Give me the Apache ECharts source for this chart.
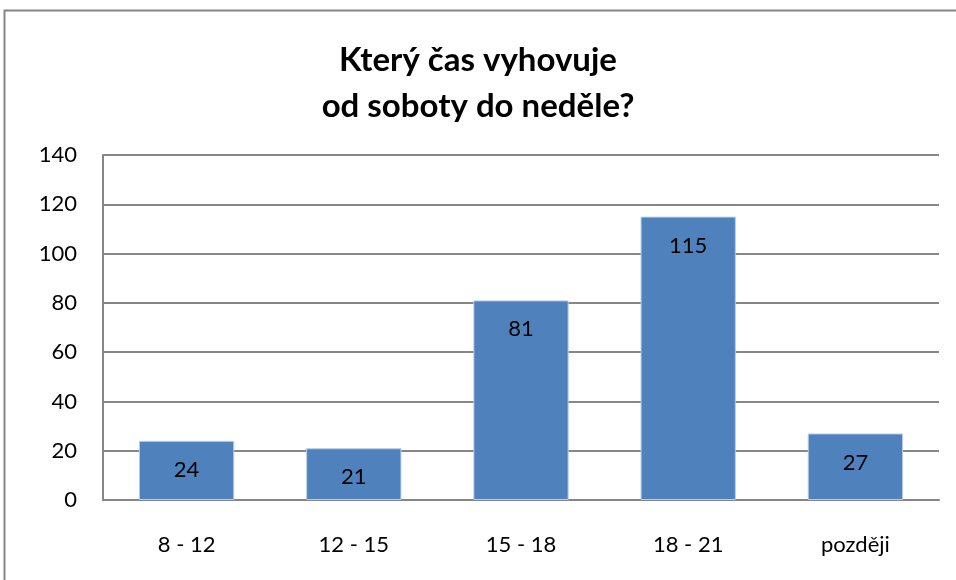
<!DOCTYPE html>
<html>
<head>
<meta charset="utf-8">
<script src="https://cdn.jsdelivr.net/npm/echarts@6/dist/echarts.min.js"></script>
<style>
  html, body { margin: 0; padding: 0; background: #fff; }
  #chart { width: 956px; height: 580px; }
</style>
</head>
<body>
<div id="chart"></div>
<script>
// data
var categories = ['8 - 12', '12 - 15', '15 - 18', '18 - 21', 'později'];
var values = [24, 21, 81, 115, 27];
var titleText = 'Který čas vyhovuje\nod soboty do neděle?';

var chart = echarts.init(document.getElementById('chart'));
var font = 'Lato, "Open Sans", sans-serif';

var option = {
    animation: false,
    graphic: [
        {
            type: 'rect',
            shape: { x: 4.5, y: 10.5, width: 1000, height: 1000 },
            style: { fill: 'none', stroke: '#868686', lineWidth: 2 }
        }
    ],
    title: {
        text: titleText,
        left: 'center',
        top: 32,
        textStyle: {
            fontFamily: font,
            fontSize: 33,
            fontWeight: 'bold',
            color: '#000',
            lineHeight: 46
        }
    },
    grid: { left: 103, right: 17, top: 155, bottom: 80 },
    xAxis: {
        type: 'category',
        data: categories,
        axisLine: { lineStyle: { color: '#868686', width: 2 } },
        axisTick: { show: false },
        axisLabel: { color: '#000', fontFamily: font, fontSize: 22, margin: 34 }
    },
    yAxis: {
        type: 'value',
        min: 0,
        max: 140,
        interval: 20,
        axisLine: { show: true, lineStyle: { color: '#868686', width: 2 } },
        axisTick: { show: false },
        splitLine: { lineStyle: { color: '#868686', width: 2 } },
        axisLabel: { color: '#000', fontFamily: font, fontSize: 22, margin: 26 }
    },
    series: [
        {
            type: 'bar',
            data: values,
            barWidth: '57%',
            itemStyle: { color: '#4F81BD', borderColor: '#B9CDE5', borderWidth: 1 },
            label: {
                show: true,
                position: 'insideTop',
                distance: 18,
                color: '#000',
                fontFamily: font,
                fontSize: 22
            }
        }
    ]
};
chart.setOption(option);
</script>
</body>
</html>
